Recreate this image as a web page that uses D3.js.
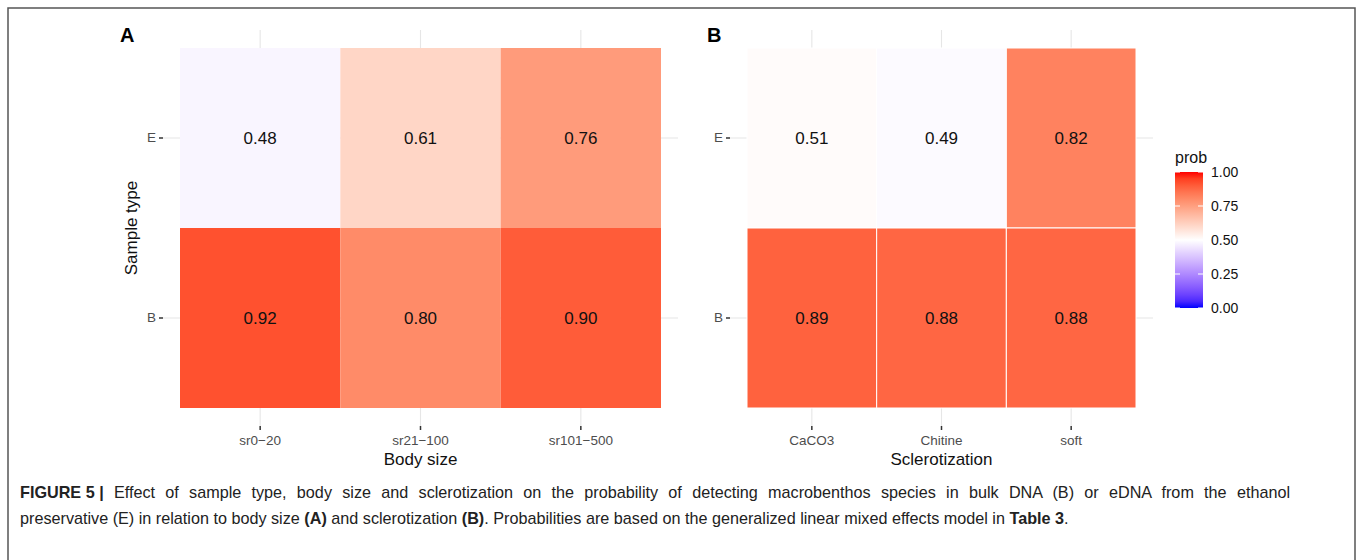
<!DOCTYPE html>
<html>
<head>
<meta charset="utf-8">
<script src="https://cdn.jsdelivr.net/npm/d3@7"></script>
<style>
  body { margin: 0; background: #fff; }
  text { font-family: "Liberation Sans", Arial, sans-serif; }
</style>
</head>
<body>
<div id="chart"></div>
<script>
// data
var sampleTypes = ["B", "E"];
var bodySizes = ["sr0\u221220", "sr21\u2212100", "sr101\u2212500"];
var probBodyE = [0.48, 0.61, 0.76];
var probBodyB = [0.92, 0.80, 0.90];
var sclerotization = ["CaCO3", "Chitine", "soft"];
var probSclerE = [0.51, 0.49, 0.82];
var probSclerB = [0.89, 0.88, 0.88];
var legendTicks = [0, 0.25, 0.5, 0.75, 1];

var W = 1357, H = 560;
var svg = d3.select("#chart").append("svg").attr("width", W).attr("height", H);

// outer frame
svg.append("rect").attr("x", 8).attr("y", 8).attr("width", 1347).attr("height", 600)
  .attr("fill", "none").attr("stroke", "#555").attr("stroke-width", 1.5);

var color = d3.scaleLinear().domain([0, 0.5, 1]).range(["blue", "white", "red"])
  .interpolate(d3.interpolateLab);

var top0 = 48, bot0 = 408, pad = 17;
var y = d3.scaleBand().domain(sampleTypes).range([bot0, top0]);

function panel(cats, eVals, bVals, x0, x1, letter, letterX, xTitle, yTitle, stroke) {
  var g = svg.append("g");
  var x = d3.scaleBand().domain(cats).range([x0, x1]);
  var px0 = x0 - pad, px1 = x1 + pad, py0 = top0 - pad - 1, py1 = bot0 + pad + 1;

  // grid
  g.selectAll("line.gx").data(cats).enter().append("line")
    .attr("x1", d => x(d) + x.bandwidth() / 2).attr("x2", d => x(d) + x.bandwidth() / 2)
    .attr("y1", py0).attr("y2", py1).attr("stroke", "#e6e6e6").attr("stroke-width", 1.1);
  g.selectAll("line.gy").data(sampleTypes).enter().append("line")
    .attr("y1", d => y(d) + y.bandwidth() / 2).attr("y2", d => y(d) + y.bandwidth() / 2)
    .attr("x1", px0).attr("x2", px1).attr("stroke", "#e6e6e6").attr("stroke-width", 1.1);

  var cells = [];
  cats.forEach(function(c, i) {
    cells.push({x: c, y: "E", v: eVals[i]});
    cells.push({x: c, y: "B", v: bVals[i]});
  });
  g.selectAll("rect.tile").data(cells).enter().append("rect")
    .attr("x", d => x(d.x)).attr("y", d => y(d.y))
    .attr("width", x.bandwidth()).attr("height", y.bandwidth())
    .attr("fill", d => color(d.v))
    .attr("stroke", stroke ? "#fff" : "none").attr("stroke-width", 1);
  g.selectAll("text.val").data(cells).enter().append("text")
    .attr("x", d => x(d.x) + x.bandwidth() / 2).attr("y", d => y(d.y) + y.bandwidth() / 2)
    .attr("dy", "0.35em").attr("text-anchor", "middle").attr("font-size", 17).attr("fill", "#111")
    .text(d => d.v.toFixed(2));

  var ax = g.append("g").attr("transform", "translate(0," + py1 + ")")
    .call(d3.axisBottom(x).tickSize(4).tickPadding(5));
  var ay = g.append("g").attr("transform", "translate(" + px0 + ",0)")
    .call(d3.axisLeft(y).tickSize(4).tickPadding(3));
  [ax, ay].forEach(function(a) {
    a.select(".domain").remove();
    a.selectAll(".tick line").attr("stroke", "#333").attr("stroke-width", 1.5);
    a.selectAll(".tick text").attr("fill", "#4d4d4d").attr("font-size", 13.5)
      .attr("font-family", "Liberation Sans, Arial, sans-serif");
  });

  g.append("text").attr("x", (x0 + x1) / 2).attr("y", 465).attr("text-anchor", "middle")
    .attr("font-size", 17).attr("fill", "#111").text(xTitle);
  if (yTitle) {
    g.append("text").attr("transform", "translate(137," + (top0 + bot0) / 2 + ") rotate(-90)")
      .attr("text-anchor", "middle").attr("font-size", 17).attr("fill", "#111").text(yTitle);
  }
  g.append("text").attr("x", letterX).attr("y", 42).attr("font-size", 20)
    .attr("font-weight", "bold").attr("fill", "#000").text(letter);
}

panel(bodySizes, probBodyE, probBodyB, 180, 661, "A", 120, "Body size", "Sample type", false);
panel(sclerotization, probSclerE, probSclerB, 747, 1136, "B", 707, "Sclerotization", null, true);

// legend
var lx = 1175, lw = 28, ly0 = 172, ly1 = 308;
var ly = d3.scaleLinear().domain([0, 1]).range([ly1, ly0]);
var defs = svg.append("defs");
var grad = defs.append("linearGradient").attr("id", "lg").attr("x1", 0).attr("y1", 1).attr("x2", 0).attr("y2", 0);
d3.range(0, 1.0001, 0.05).forEach(function(t) {
  grad.append("stop").attr("offset", t).attr("stop-color", color(t));
});
svg.append("text").attr("x", lx).attr("y", 163).attr("font-size", 16).attr("fill", "#111").text("prob");
svg.append("rect").attr("x", lx).attr("y", ly0).attr("width", lw).attr("height", ly1 - ly0)
  .attr("fill", "url(#lg)");
var lt = svg.append("g");
legendTicks.forEach(function(t) {
  lt.append("line").attr("x1", lx).attr("x2", lx + 5).attr("y1", ly(t)).attr("y2", ly(t))
    .attr("stroke", "#fff").attr("stroke-width", 1);
  lt.append("line").attr("x1", lx + lw - 5).attr("x2", lx + lw).attr("y1", ly(t)).attr("y2", ly(t))
    .attr("stroke", "#fff").attr("stroke-width", 1);
  lt.append("text").attr("x", lx + lw + 8).attr("y", ly(t)).attr("dy", "0.35em")
    .attr("font-size", 14).attr("fill", "#111").text(t.toFixed(2));
});

// caption (first line justified to the frame width, label kept tight)
var cap1 = svg.append("text").attr("x", 20).attr("y", 498).attr("font-size", 16.2).attr("fill", "#222");
cap1.append("tspan").attr("font-weight", "bold").text("FIGURE 5 |");
var rest1 = cap1.append("tspan").text(" Effect of sample type, body size and sclerotization on the probability of detecting macrobenthos species in bulk DNA (B) or eDNA from the ethanol");
var len1 = cap1.node().getComputedTextLength();
var spaces = (rest1.text().match(/ /g) || []).length;
rest1.attr("word-spacing", Math.max(0, (1270 - len1) / spaces));

var cap2 = svg.append("text").attr("x", 20).attr("y", 524).attr("font-size", 16.2).attr("fill", "#222");
cap2.append("tspan").text("preservative (E) in relation to body size ");
cap2.append("tspan").attr("font-weight", "bold").text("(A)");
cap2.append("tspan").text(" and sclerotization ");
cap2.append("tspan").attr("font-weight", "bold").text("(B)");
cap2.append("tspan").text(". Probabilities are based on the generalized linear mixed effects model in ");
cap2.append("tspan").attr("font-weight", "bold").text("Table 3");
cap2.append("tspan").text(".");
</script>
</body>
</html>
